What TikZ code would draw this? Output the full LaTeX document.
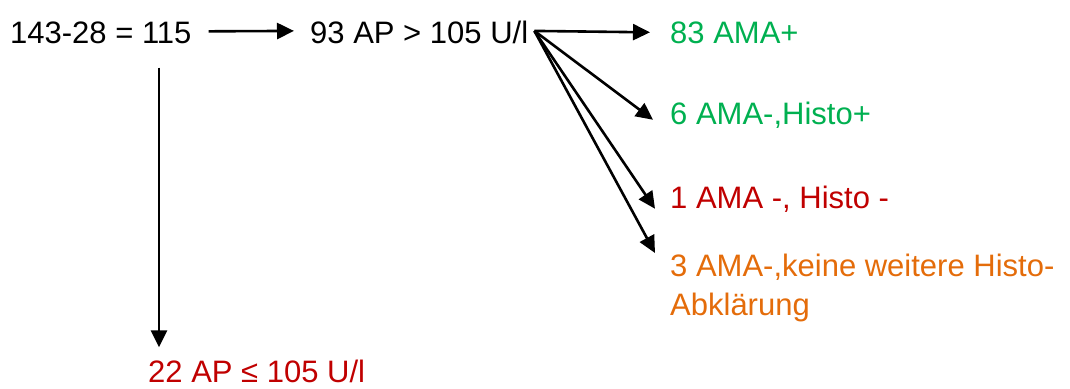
\documentclass[tikz,border=0pt]{standalone}
\usepackage{fontspec}
\setmainfont{Liberation Sans}
\usetikzlibrary{arrows.meta}
\definecolor{okgreen}{HTML}{00B050}
\definecolor{badred}{HTML}{C00000}
\definecolor{warnorange}{HTML}{E46C0A}
\tikzset{
  lbl/.style={anchor=base west, inner sep=0pt, font=\fontsize{31}{39}\selectfont, align=left},
  arr/.style={line width=2.6pt, -{Triangle[length=17pt,width=16pt]}},
}
\begin{document}
\begin{tikzpicture}[x=1pt,y=-1pt]
\useasboundingbox (0,0) rectangle (1070,388);
% totals
\node[lbl] (total) at (10,43) {143-28 = 115};
\node[lbl] (high) at (310,43) {93 AP > 105 U/l};
\node[lbl, text=badred] (low) at (148,382) {22 AP ≤ 105 U/l};
% outcomes of the elevated group
\node[lbl, text=okgreen] (pos) at (670,43) {83 AMA+};
\node[lbl, text=okgreen] (histpos) at (670,124) {6 AMA-,Histo+};
\node[lbl, text=badred] (neg) at (670,208) {1 AMA -, Histo -};
\node[lbl, text=warnorange, anchor=north west] (open) at (670,254) {3 AMA-,keine weitere Histo-\\Abklärung};
% connectors
\coordinate (fan) at ([xshift=6pt,yshift=1pt]high.east);
\coordinate (below) at ([yshift=-24pt]total.south);
\coordinate (lowtip) at ([xshift=11pt,yshift=12pt]low.north west);
\coordinate (split) at (lowtip |- below);
\draw[arr] ([xshift=17pt,yshift=1pt]total.east) -- ([xshift=-16pt,yshift=1pt]high.west);
\draw[arr] (split) -- (lowtip);
\draw[arr] (fan) -- ([xshift=-20pt,yshift=0pt]pos.west);
\draw[arr] (fan) -- ([xshift=-17pt,yshift=-5pt]histpos.west);
\draw[arr] (fan) -- ([xshift=-15pt,yshift=-10pt]neg.west);
\draw[arr] (fan) -- ([xshift=-15pt,yshift=1pt]open.north west);
\end{tikzpicture}
\end{document}
